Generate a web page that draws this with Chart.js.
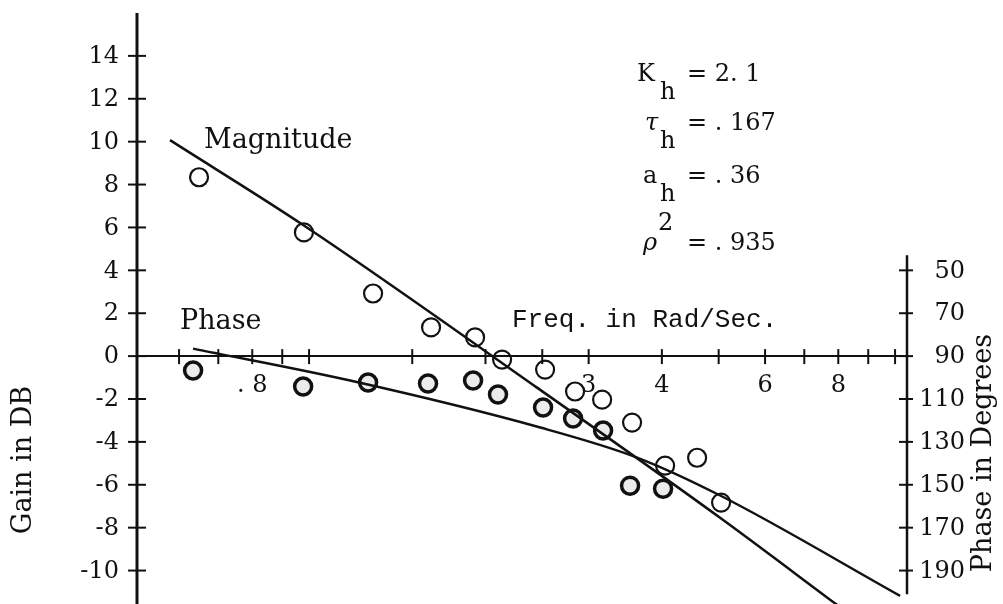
<!DOCTYPE html>
<html>
<head>
<meta charset="utf-8">
<script src="https://cdn.jsdelivr.net/npm/chart.js@4.4.1/dist/chart.umd.min.js"></script>
<style>
  html, body { margin: 0; padding: 0; background: #fff; }
  #wrap { width: 1003px; height: 604px; }
</style>
</head>
<body>
<div id="wrap"><canvas id="chart"></canvas></div>
<script>
// measured gain (open circles)
let magFreq = [0.649, 0.980, 1.286, 1.615, 1.920, 2.135, 2.528, 2.844, 3.163, 3.558, 4.051, 4.594, 5.048]
let magGain = [8.34, 5.77, 2.92, 1.34, 0.87, -0.16, -0.63, -1.65, -2.03, -3.10, -5.11, -4.74, -6.83]

// measured phase (shaded circles)
let phaseFreq = [0.634, 0.977, 1.261, 1.596, 1.905, 2.101, 2.508, 2.822, 3.175, 3.530, 4.019]
let phaseDeg = [96.7, 104.2, 102.3, 102.8, 101.4, 107.9, 114.0, 119.1, 124.7, 150.4, 151.8]

// model curves
let magFitFreq = [0.579, 0.980, 2.449, 5.028, 7.96]
let magFitGain = [10.07, 6.09, -1.47, -7.54, -11.6]
let phaseFitFreq = [0.634, 1.175, 2.481, 3.628, 5.03, 10.2]
let phaseFitDeg = [86.5, 101.4, 123.3, 137.3, 155.0, 201.8]

let freqTicks = [0.6, 0.7, 0.8, 0.9, 1, 1.5, 2, 2.5, 3, 4, 5, 6, 7, 8, 9, 10]
let freqLabels = ['', '', '. 8', '', '', '', '', '', '3', '4', '', '6', '', '8', '', '']
let gainTicks = [-10, -8, -6, -4, -2, 0, 2, 4, 6, 8, 10, 12, 14]
let phaseTicks = [50, 70, 90, 110, 130, 150, 170, 190]

const ink = '#111'
const serif = 'DejaVu Serif'
const tickFont = '24px "' + serif + '"'

let pts = (xs, ys) => xs.map((f, i) => ({ x: f, y: ys[i] }))
let setTicks = list => scale => { scale.ticks = list.map(v => ({ value: v })) }

// axis lines, cross ticks, tick numbers and all the lettering
let paperPlugin = {
    id: 'paper',
    afterDraw(chart) {
        let { ctx, chartArea: area, scales: { x, y, y2 } } = chart
        ctx.save()
        ctx.strokeStyle = ink
        ctx.fillStyle = ink
        let seg = (x1, y1, x2, y2_) => {
            ctx.beginPath(); ctx.moveTo(x1, y1); ctx.lineTo(x2, y2_); ctx.stroke()
        }

        // gain axis runs down to the bottom edge
        ctx.lineWidth = 3
        seg(area.left, area.top, area.left, chart.height)
        ctx.lineWidth = 2
        gainTicks.forEach(v => {
            let py = y.getPixelForValue(v)
            seg(area.left - 9, py, area.left + 9, py)
        })
        let y0 = y.getPixelForValue(0)
        freqTicks.forEach(v => {
            let px = x.getPixelForValue(v)
            seg(px, y0 - 7, px, y0 + 8)
        })
        ctx.lineWidth = 2.5
        seg(area.right, y2.getPixelForValue(43), area.right, y2.getPixelForValue(201))
        ctx.lineWidth = 2
        phaseTicks.forEach(v => {
            let py = y2.getPixelForValue(v)
            seg(area.right - 8, py, area.right + 6, py)
        })

        // tick numbers
        ctx.font = tickFont
        ctx.textAlign = 'right'
        ctx.textBaseline = 'middle'
        gainTicks.forEach(v => ctx.fillText(String(v), area.left - 18, y.getPixelForValue(v) + 1))
        phaseTicks.forEach(v => ctx.fillText(String(v), area.right + 58, y2.getPixelForValue(v) + 1))
        ctx.textAlign = 'center'
        ctx.textBaseline = 'alphabetic'
        freqTicks.forEach((v, i) => {
            if (freqLabels[i]) ctx.fillText(freqLabels[i], x.getPixelForValue(v), y0 + 36)
        })

        ctx.textAlign = 'left'
        ctx.font = '27px "' + serif + '"'
        ctx.fillText('Magnitude', 204, 148)
        ctx.fillText('Phase', 180, 329)
        ctx.font = '26px "Liberation Mono"'
        ctx.fillText('Freq. in Rad/Sec.', 512, 327)

        // parameter block
        let big = '24px "' + serif + '"'
        let ital = 'italic 24px "' + serif + '"'
        let rows = [
            { sym: 'K', symFont: big, sx: 637, sub: 'h', val: '= 2. 1', base: 81 },
            { sym: '\u03c4', symFont: ital, sx: 645, sub: 'h', val: '= . 167', base: 130 },
            { sym: 'a', symFont: big, sx: 643, sub: 'h', val: '= . 36', base: 183 },
            { sym: '\u03c1', symFont: ital, sx: 643, sup: '2', val: '= . 935', base: 250 }
        ]
        rows.forEach(r => {
            ctx.font = r.symFont
            ctx.fillText(r.sym, r.sx, r.base)
            ctx.font = big
            if (r.sub) ctx.fillText(r.sub, 660, r.base + 18)
            if (r.sup) ctx.fillText(r.sup, 658, r.base - 20)
            ctx.fillText(r.val, 687, r.base)
        })

        // axis titles, both reading upward
        ctx.font = '27px "' + serif + '"'
        ctx.textAlign = 'center'
        ctx.textBaseline = 'middle'
        ctx.save()
        ctx.translate(24, 460)
        ctx.rotate(-Math.PI / 2)
        ctx.fillText('Gain in DB', 0, 0)
        ctx.restore()
        ctx.save()
        ctx.translate(984, 453)
        ctx.rotate(-Math.PI / 2)
        ctx.fillText('Phase in Degrees', 0, 0)
        ctx.restore()

        ctx.restore()
    }
}

let ctx = document.getElementById('chart').getContext('2d')
let myChart = new Chart(ctx, {
    type: 'scatter',
    data: {
        datasets: [
            {
                label: 'Magnitude fit',
                data: pts(magFitFreq, magFitGain),
                yAxisID: 'y',
                showLine: true,
                borderColor: ink,
                borderWidth: 2.5,
                pointRadius: 0,
                cubicInterpolationMode: 'monotone',
                clip: false
            },
            {
                label: 'Phase fit',
                data: pts(phaseFitFreq, phaseFitDeg),
                yAxisID: 'y2',
                showLine: true,
                borderColor: ink,
                borderWidth: 2.5,
                pointRadius: 0,
                cubicInterpolationMode: 'monotone',
                clip: false
            },
            {
                label: 'Gain',
                data: pts(magFreq, magGain),
                yAxisID: 'y',
                pointRadius: 9,
                borderWidth: 2.2,
                borderColor: ink,
                backgroundColor: 'rgba(255,255,255,0)'
            },
            {
                label: 'Phase',
                data: pts(phaseFreq, phaseDeg),
                yAxisID: 'y2',
                pointRadius: 8.5,
                borderWidth: 3.5,
                borderColor: ink,
                backgroundColor: '#ebebeb'
            }
        ]
    },
    options: {
        responsive: true,
        maintainAspectRatio: false,
        animation: false,
        layout: { padding: { top: 13, bottom: 0, left: 0, right: 0 } },
        plugins: {
            legend: { display: false },
            tooltip: { enabled: false }
        },
        scales: {
            x: {
                type: 'logarithmic',
                min: 0.5086,
                max: 10.48,
                position: { y: 0 },
                afterBuildTicks: setTicks(freqTicks),
                grid: { display: false, drawTicks: false },
                border: { display: true, color: ink, width: 2 },
                ticks: { display: false }
            },
            y: {
                type: 'linear',
                position: 'left',
                min: -11.0,
                max: 16.0,
                afterBuildTicks: setTicks(gainTicks),
                afterFit: s => { s.width = 137 },
                grid: { display: false, drawTicks: false },
                border: { display: false },
                ticks: { display: false }
            },
            y2: {
                type: 'linear',
                position: 'right',
                reverse: true,
                min: -70,
                max: 200,
                afterBuildTicks: setTicks(phaseTicks),
                afterFit: s => { s.width = 96 },
                grid: { display: false, drawTicks: false },
                border: { display: false },
                ticks: { display: false }
            }
        }
    },
    plugins: [paperPlugin]
})
</script>
</body>
</html>
